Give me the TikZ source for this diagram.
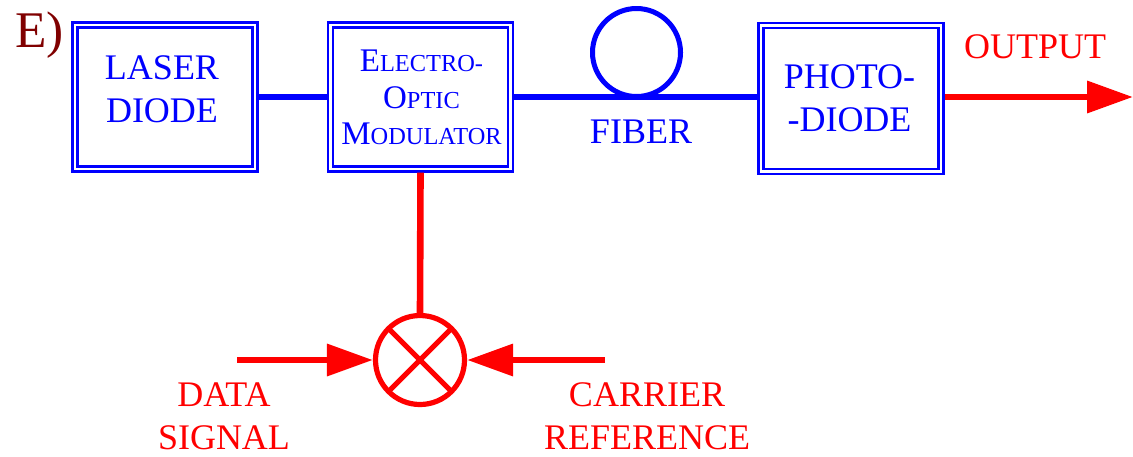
\documentclass[tikz,border=0pt]{standalone}
\usepackage{fontspec}
\setmainfont{Liberation Serif}
\usetikzlibrary{arrows.meta}
\definecolor{darkred}{RGB}{128,0,0}
\newcommand\smallcap[1]{{\fontsize{12.2}{18.25}\selectfont #1}}

\begin{document}
\begin{tikzpicture}[x=0.5pt,y=-0.5pt,
        blockbox/.style={draw=blue,double=white,line width=1.1pt,double distance=1.4pt,
            minimum width=90pt,minimum height=72pt,inner sep=0pt,outer sep=1.8pt},
        bluetxt/.style={text=blue,align=center,inner sep=0pt,font=\fontsize{18}{21.5}\selectfont},
        redtxt/.style={text=red,align=center,inner sep=0pt,font=\fontsize{18}{21.5}\selectfont},
        blueline/.style={draw=blue,line width=3pt},
        redline/.style={draw=red,line width=3.3pt},
        redarrow/.style={redline,-{Triangle[length=23pt,width=15.5pt]}}]
        \useasboundingbox (0,0) rectangle (1133,456);
        % blocks
        \node (laser) [blockbox] at (165,97) {};
        \node (eom) [blockbox] at (420.5,97) {};
        \node (pd) [blockbox,minimum height=73pt] at (851,98.5) {};
        \node (loop) [circle,draw=blue,line width=2.5pt,minimum size=44pt,inner sep=0pt] at (636.5,52.5) {};
        \node (mixer) [circle,draw=red,line width=2.6pt,minimum size=44.5pt,inner sep=0pt] at (420,360) {};
        \coordinate (dsig) at (237,360);
        \coordinate (csig) at (605,360);
        \coordinate (outend) at (1133,97);
        
        % lines
        \draw [blueline] (laser.east) -- (eom.west);
        \draw [blueline] (eom.east) -- (eom.east -| pd.west);
        \draw [redline] (eom.south) -- (mixer.north);
        \draw [redline,line width=2.6pt,shorten <=2.5pt,shorten >=2.5pt] (mixer.135) -- (mixer.-45);
        \draw [redline,line width=2.6pt,shorten <=2.5pt,shorten >=2.5pt] (mixer.45) -- (mixer.-135);
        \draw [redarrow] (dsig) -- (mixer.west);
        \draw [redarrow] (csig) -- (mixer.east);
        \draw [redarrow] (pd.east |- outend) -- (outend);
        
        % labels
        \node (etag) [anchor=base west,text=darkred,inner sep=0pt,font=\fontsize{25.7}{30}\selectfont] at (15,47) {E)};
        \node (lasertxt) [bluetxt] at (162,89.5) {LASER\\DIODE};
        \node (eomtxt) [bluetxt,font=\fontsize{16.5}{18.25}\selectfont] at (421.5,97.5) {E\smallcap{LECTRO-}\\O\smallcap{PTIC}\\M\smallcap{ODULATOR}};
        \node (pdtxt) [bluetxt] at (849.5,98.5) {PHOTO-\\-DIODE};
        \node (fibertxt) [bluetxt,anchor=base] at (641,143) {FIBER};
        \node (outtxt) [redtxt,anchor=base] at (1035,58) {OUTPUT};
        \node (datatxt) [redtxt] at (224,416.5) {DATA\\SIGNAL};
        \node (cartxt) [redtxt] at (647,416.5) {CARRIER\\REFERENCE};
    \end{tikzpicture}
\end{document}
